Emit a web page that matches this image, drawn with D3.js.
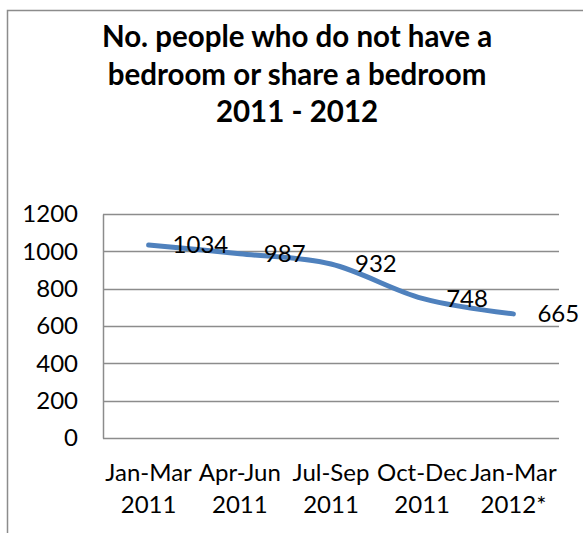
<!DOCTYPE html>
<html>
<head>
<meta charset="utf-8">
<script src="https://cdn.jsdelivr.net/npm/d3@7"></script>
<style>
  html, body { margin: 0; padding: 0; background: #fff; }
  svg { display: block; }
  text { font-family: Lato, "Open Sans", sans-serif; fill: #000; }
</style>
</head>
<body>
<svg id="chart" width="583" height="533"></svg>
<script>
// Quarterly counts of people without a bedroom or sharing one
const categories = [
  ["Jan-Mar", "2011"],
  ["Apr-Jun", "2011"],
  ["Jul-Sep", "2011"],
  ["Oct-Dec", "2011"],
  ["Jan-Mar", "2012*"]
];
const values = [1034, 987, 932, 748, 665];
const yTicks = [0, 200, 400, 600, 800, 1000, 1200];
const titleLines = [
  "No. people who do not have a",
  "bedroom or share a bedroom",
  "2011 - 2012"
];

const svg = d3.select("#chart");
const labelSize = 24;

// Chart frame (extends past the visible window on the right and bottom)
svg.append("rect")
  .attr("x", 7.5).attr("y", 10.5)
  .attr("width", 620).attr("height", 600)
  .attr("fill", "#fff")
  .attr("stroke", "#8c8c8c")
  .attr("stroke-width", 1.5);

// Title
const title = svg.append("text")
  .attr("text-anchor", "middle")
  .attr("font-weight", "bold")
  .attr("font-size", 29.5);
titleLines.forEach((t, i) => {
  title.append("tspan")
    .attr("x", 297)
    .attr("y", 47 + i * 37.5)
    .text(t);
});

// Plot area
const plot = { left: 103, right: 559, top: 214, bottom: 438 };

const x = d3.scaleBand()
  .domain(d3.range(categories.length))
  .range([plot.left, plot.right]);

const y = d3.scaleLinear()
  .domain([0, 1200])
  .range([plot.bottom, plot.top]);

// Horizontal gridlines
svg.append("g")
  .selectAll("line")
  .data(yTicks)
  .join("line")
  .attr("x1", plot.left).attr("x2", plot.right)
  .attr("y1", d => Math.round(y(d)) + 0.5)
  .attr("y2", d => Math.round(y(d)) + 0.5)
  .attr("stroke", "#8c8c8c")
  .attr("stroke-width", 1.5);

// Value axis
const yAxis = svg.append("g")
  .attr("transform", `translate(${plot.left},0)`)
  .call(d3.axisLeft(y).tickValues(yTicks).tickFormat(d3.format("d")).tickSize(0).tickPadding(25));
yAxis.select(".domain")
  .attr("stroke", "#8c8c8c")
  .attr("stroke-width", 1.5);
yAxis.selectAll("text")
  .attr("font-size", labelSize)
  .attr("font-family", "Lato, 'Open Sans', sans-serif")
  .attr("fill", "#000");

// Category axis labels (two lines each)
const xAxis = svg.append("g")
  .attr("transform", `translate(0,${plot.bottom})`)
  .call(d3.axisBottom(x).tickSize(0).tickFormat(""));
xAxis.select(".domain").remove();
xAxis.selectAll(".tick").each(function(d) {
  const t = d3.select(this).select("text")
    .attr("font-size", labelSize)
    .attr("font-family", "Lato, 'Open Sans', sans-serif")
    .attr("fill", "#000")
    .attr("dy", null)
    .attr("y", 0);
  categories[d].forEach((line, i) => {
    t.append("tspan")
      .attr("x", 0)
      .attr("y", 43 + i * 32)
      .text(line);
  });
});

// Smoothed series line
const cx = i => x(i) + x.bandwidth() / 2;
const line = d3.line()
  .x((d, i) => cx(i))
  .y(d => y(d))
  .curve(d3.curveCardinal.tension(0));

svg.append("path")
  .datum(values)
  .attr("d", line)
  .attr("fill", "none")
  .attr("stroke", "#4f81bd")
  .attr("stroke-width", 5)
  .attr("stroke-linecap", "round")
  .attr("stroke-linejoin", "round");

// Data labels to the right of each point
svg.append("g")
  .selectAll("text")
  .data(values)
  .join("text")
  .attr("x", (d, i) => cx(i) + 24)
  .attr("y", d => y(d))
  .attr("dy", "0.35em")
  .attr("font-size", labelSize)
  .text(d => d);
</script>
</body>
</html>
